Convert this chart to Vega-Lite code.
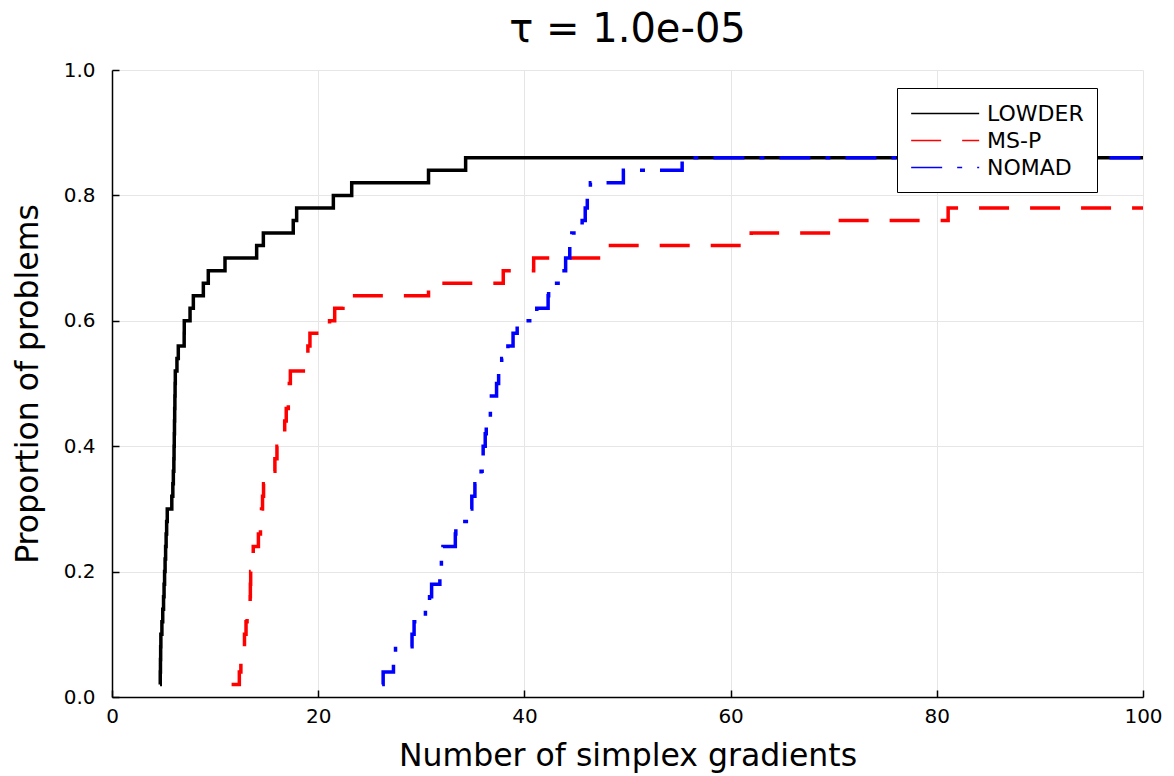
{
  "$schema": "https://vega.github.io/schema/vega-lite/v6.json",
  "width": 1031,
  "height": 627,
  "autosize": {"type": "none"},
  "padding": {"left": 112, "top": 70, "right": 31, "bottom": 79},
  "background": "white",
  "config": {
    "font": "DejaVu Sans",
    "view": {"stroke": null},
    "axis": {
      "domainColor": "black",
      "domainWidth": 1.5,
      "tickColor": "black",
      "tickWidth": 1.5,
      "tickSize": -7,
      "gridColor": "#e6e6e6",
      "gridWidth": 1,
      "labelFont": "DejaVu Sans",
      "labelFontSize": 20,
      "labelColor": "black",
      "labelFlush": false,
      "titleFont": "DejaVu Sans",
      "titleFontSize": 31.5,
      "titleFontWeight": "normal",
      "titleColor": "black"
    }
  },
  "title": {
    "text": "τ = 1.0e-05",
    "fontSize": 40,
    "fontWeight": "normal",
    "font": "DejaVu Sans",
    "color": "black",
    "anchor": "middle",
    "baseline": "bottom",
    "offset": -30
  },
  "data": {
    "values": [
      {"solver": "LOWDER", "x": 4.66, "y": 0.02},
      {"solver": "LOWDER", "x": 4.68, "y": 0.04},
      {"solver": "LOWDER", "x": 4.70, "y": 0.06},
      {"solver": "LOWDER", "x": 4.72, "y": 0.08},
      {"solver": "LOWDER", "x": 4.74, "y": 0.10},
      {"solver": "LOWDER", "x": 4.84, "y": 0.12},
      {"solver": "LOWDER", "x": 4.92, "y": 0.14},
      {"solver": "LOWDER", "x": 5.0, "y": 0.16},
      {"solver": "LOWDER", "x": 5.05, "y": 0.18},
      {"solver": "LOWDER", "x": 5.1, "y": 0.20},
      {"solver": "LOWDER", "x": 5.15, "y": 0.22},
      {"solver": "LOWDER", "x": 5.2, "y": 0.24},
      {"solver": "LOWDER", "x": 5.25, "y": 0.26},
      {"solver": "LOWDER", "x": 5.3, "y": 0.28},
      {"solver": "LOWDER", "x": 5.36, "y": 0.30},
      {"solver": "LOWDER", "x": 5.8, "y": 0.32},
      {"solver": "LOWDER", "x": 5.9, "y": 0.34},
      {"solver": "LOWDER", "x": 5.95, "y": 0.36},
      {"solver": "LOWDER", "x": 6.0, "y": 0.38},
      {"solver": "LOWDER", "x": 6.02, "y": 0.40},
      {"solver": "LOWDER", "x": 6.04, "y": 0.42},
      {"solver": "LOWDER", "x": 6.06, "y": 0.44},
      {"solver": "LOWDER", "x": 6.08, "y": 0.46},
      {"solver": "LOWDER", "x": 6.1, "y": 0.48},
      {"solver": "LOWDER", "x": 6.12, "y": 0.50},
      {"solver": "LOWDER", "x": 6.14, "y": 0.52},
      {"solver": "LOWDER", "x": 6.3, "y": 0.54},
      {"solver": "LOWDER", "x": 6.43, "y": 0.56},
      {"solver": "LOWDER", "x": 7.0, "y": 0.58},
      {"solver": "LOWDER", "x": 7.01, "y": 0.60},
      {"solver": "LOWDER", "x": 7.57, "y": 0.62},
      {"solver": "LOWDER", "x": 7.89, "y": 0.64},
      {"solver": "LOWDER", "x": 8.86, "y": 0.66},
      {"solver": "LOWDER", "x": 9.34, "y": 0.68},
      {"solver": "LOWDER", "x": 10.96, "y": 0.70},
      {"solver": "LOWDER", "x": 14.03, "y": 0.72},
      {"solver": "LOWDER", "x": 14.68, "y": 0.74},
      {"solver": "LOWDER", "x": 17.58, "y": 0.76},
      {"solver": "LOWDER", "x": 17.91, "y": 0.78},
      {"solver": "LOWDER", "x": 21.47, "y": 0.80},
      {"solver": "LOWDER", "x": 23.25, "y": 0.82},
      {"solver": "LOWDER", "x": 30.7, "y": 0.84},
      {"solver": "LOWDER", "x": 34.3, "y": 0.86},
      {"solver": "LOWDER", "x": 100, "y": 0.86},
      {"solver": "MS-P", "x": 11.6, "y": 0.02},
      {"solver": "MS-P", "x": 12.35, "y": 0.04},
      {"solver": "MS-P", "x": 12.5, "y": 0.06},
      {"solver": "MS-P", "x": 12.7, "y": 0.08},
      {"solver": "MS-P", "x": 12.85, "y": 0.10},
      {"solver": "MS-P", "x": 13.0, "y": 0.12},
      {"solver": "MS-P", "x": 13.1, "y": 0.14},
      {"solver": "MS-P", "x": 13.4, "y": 0.16},
      {"solver": "MS-P", "x": 13.42, "y": 0.18},
      {"solver": "MS-P", "x": 13.45, "y": 0.20},
      {"solver": "MS-P", "x": 13.55, "y": 0.22},
      {"solver": "MS-P", "x": 13.7, "y": 0.24},
      {"solver": "MS-P", "x": 14.2, "y": 0.26},
      {"solver": "MS-P", "x": 14.4, "y": 0.28},
      {"solver": "MS-P", "x": 14.5, "y": 0.30},
      {"solver": "MS-P", "x": 14.6, "y": 0.32},
      {"solver": "MS-P", "x": 14.7, "y": 0.34},
      {"solver": "MS-P", "x": 15.6, "y": 0.36},
      {"solver": "MS-P", "x": 15.8, "y": 0.38},
      {"solver": "MS-P", "x": 16.0, "y": 0.40},
      {"solver": "MS-P", "x": 16.6, "y": 0.42},
      {"solver": "MS-P", "x": 16.75, "y": 0.44},
      {"solver": "MS-P", "x": 16.9, "y": 0.46},
      {"solver": "MS-P", "x": 17.1, "y": 0.48},
      {"solver": "MS-P", "x": 17.2, "y": 0.50},
      {"solver": "MS-P", "x": 17.3, "y": 0.52},
      {"solver": "MS-P", "x": 18.9, "y": 0.54},
      {"solver": "MS-P", "x": 19.0, "y": 0.56},
      {"solver": "MS-P", "x": 19.2, "y": 0.58},
      {"solver": "MS-P", "x": 21.1, "y": 0.60},
      {"solver": "MS-P", "x": 21.6, "y": 0.62},
      {"solver": "MS-P", "x": 22.4, "y": 0.64},
      {"solver": "MS-P", "x": 30.7, "y": 0.66},
      {"solver": "MS-P", "x": 37.95, "y": 0.68},
      {"solver": "MS-P", "x": 40.9, "y": 0.70},
      {"solver": "MS-P", "x": 47.6, "y": 0.72},
      {"solver": "MS-P", "x": 62.0, "y": 0.74},
      {"solver": "MS-P", "x": 69.9, "y": 0.76},
      {"solver": "MS-P", "x": 81.1, "y": 0.78},
      {"solver": "MS-P", "x": 100, "y": 0.78},
      {"solver": "NOMAD", "x": 26.2, "y": 0.02},
      {"solver": "NOMAD", "x": 26.3, "y": 0.04},
      {"solver": "NOMAD", "x": 27.3, "y": 0.06},
      {"solver": "NOMAD", "x": 27.5, "y": 0.08},
      {"solver": "NOMAD", "x": 29.1, "y": 0.10},
      {"solver": "NOMAD", "x": 29.3, "y": 0.12},
      {"solver": "NOMAD", "x": 30.4, "y": 0.14},
      {"solver": "NOMAD", "x": 30.8, "y": 0.16},
      {"solver": "NOMAD", "x": 31.0, "y": 0.18},
      {"solver": "NOMAD", "x": 31.8, "y": 0.20},
      {"solver": "NOMAD", "x": 31.95, "y": 0.22},
      {"solver": "NOMAD", "x": 32.1, "y": 0.24},
      {"solver": "NOMAD", "x": 33.3, "y": 0.26},
      {"solver": "NOMAD", "x": 33.35, "y": 0.28},
      {"solver": "NOMAD", "x": 34.6, "y": 0.30},
      {"solver": "NOMAD", "x": 34.9, "y": 0.32},
      {"solver": "NOMAD", "x": 35.2, "y": 0.34},
      {"solver": "NOMAD", "x": 35.8, "y": 0.36},
      {"solver": "NOMAD", "x": 35.9, "y": 0.38},
      {"solver": "NOMAD", "x": 36.0, "y": 0.40},
      {"solver": "NOMAD", "x": 36.2, "y": 0.42},
      {"solver": "NOMAD", "x": 36.3, "y": 0.44},
      {"solver": "NOMAD", "x": 36.7, "y": 0.46},
      {"solver": "NOMAD", "x": 36.8, "y": 0.48},
      {"solver": "NOMAD", "x": 37.3, "y": 0.50},
      {"solver": "NOMAD", "x": 37.5, "y": 0.52},
      {"solver": "NOMAD", "x": 37.8, "y": 0.54},
      {"solver": "NOMAD", "x": 38.4, "y": 0.56},
      {"solver": "NOMAD", "x": 38.9, "y": 0.58},
      {"solver": "NOMAD", "x": 39.3, "y": 0.60},
      {"solver": "NOMAD", "x": 41.2, "y": 0.62},
      {"solver": "NOMAD", "x": 42.3, "y": 0.64},
      {"solver": "NOMAD", "x": 42.35, "y": 0.66},
      {"solver": "NOMAD", "x": 43.6, "y": 0.68},
      {"solver": "NOMAD", "x": 44.0, "y": 0.70},
      {"solver": "NOMAD", "x": 44.4, "y": 0.72},
      {"solver": "NOMAD", "x": 44.6, "y": 0.74},
      {"solver": "NOMAD", "x": 45.6, "y": 0.76},
      {"solver": "NOMAD", "x": 45.9, "y": 0.78},
      {"solver": "NOMAD", "x": 46.1, "y": 0.80},
      {"solver": "NOMAD", "x": 46.4, "y": 0.82},
      {"solver": "NOMAD", "x": 49.6, "y": 0.84},
      {"solver": "NOMAD", "x": 55.3, "y": 0.86},
      {"solver": "NOMAD", "x": 100, "y": 0.86}
    ]
  },
  "mark": {"type": "line", "interpolate": "step-after", "strokeWidth": 3.5, "strokeCap": "butt", "clip": true},
  "encoding": {
    "x": {
      "field": "x", "type": "quantitative",
      "scale": {"domain": [0, 100], "nice": false, "zero": false},
      "axis": {"title": "Number of simplex gradients", "values": [0, 20, 40, 60, 80, 100], "format": "d", "labelPadding": 16, "titlePadding": 14}
    },
    "y": {
      "field": "y", "type": "quantitative",
      "scale": {"domain": [0, 1], "nice": false},
      "axis": {"title": "Proportion of problems", "values": [0, 0.2, 0.4, 0.6, 0.8, 1.0], "format": ".1f", "labelPadding": 24, "titlePadding": 19}
    },
    "color": {
      "field": "solver", "type": "nominal",
      "scale": {"domain": ["LOWDER", "MS-P", "NOMAD"], "range": ["black", "red", "blue"]},
      "legend": {
        "title": null,
        "orient": "none",
        "legendX": 785,
        "legendY": 18,
        "fillColor": "white",
        "strokeColor": "black",
        "padding": 13,
        "cornerRadius": 0,
        "labelFont": "DejaVu Sans",
        "labelFontSize": 22,
        "labelColor": "black",
        "labelOffset": 52,
        "labelExpr": "datum.label + '\u00a0\u00a0'",
        "rowPadding": 3,
        "symbolType": "M-1,0H5",
        "symbolSize": 514,
        "symbolStrokeWidth": 1.5
      }
    },
    "strokeDash": {
      "field": "solver", "type": "nominal",
      "scale": {"domain": ["LOWDER", "MS-P", "NOMAD"], "range": [[1, 0], [30, 21], [31, 15, 5, 15]]},
      "legend": {
        "title": null,
        "orient": "none",
        "legendX": 785,
        "legendY": 18,
        "fillColor": "white",
        "strokeColor": "black",
        "padding": 13,
        "cornerRadius": 0,
        "labelFont": "DejaVu Sans",
        "labelFontSize": 22,
        "labelColor": "black",
        "labelOffset": 52,
        "labelExpr": "datum.label + '\u00a0\u00a0'",
        "rowPadding": 3,
        "symbolType": "M-1,0H5",
        "symbolSize": 514,
        "symbolStrokeWidth": 1.5
      }
    }
  }
}
